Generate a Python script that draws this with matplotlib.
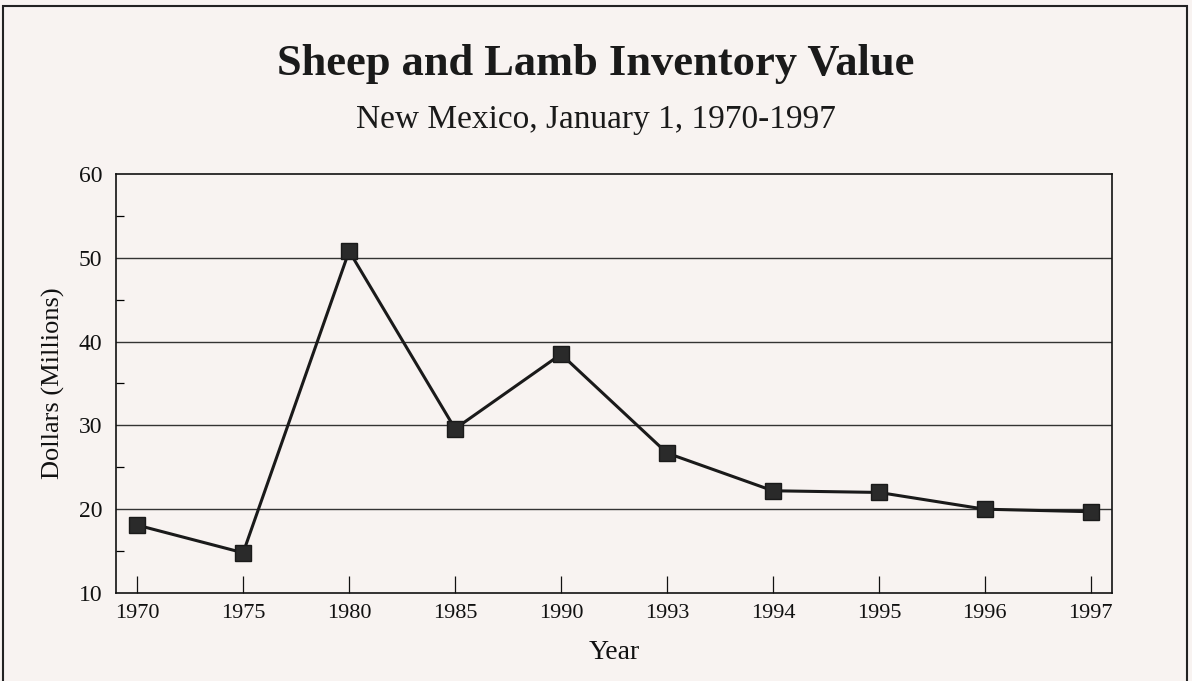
import matplotlib
matplotlib.use("Agg")
import matplotlib.pyplot as plt
from matplotlib.patches import Rectangle
from matplotlib.ticker import MultipleLocator

years = ["1970", "1975", "1980", "1985", "1990", "1993", "1994", "1995", "1996", "1997"]
values = [18.1, 14.8, 50.8, 29.6, 38.5, 26.7, 22.2, 22.0, 20.0, 19.7]

plt.rcParams['font.family'] = ['Liberation Serif', 'DejaVu Serif']

bg = '#f8f3f1'
fig = plt.figure(figsize=(11.92, 6.81), dpi=100, facecolor=bg)
ax = fig.add_axes([116/1192, 1 - 593/681, (1112 - 116)/1192, (593 - 174)/681])
ax.set_facecolor(bg)

x = list(range(len(years)))
ax.plot(x, values, color='#1a1a1a', lw=2.2, marker='s', ms=11,
        mfc='#2a2a2a', mec='#1a1a1a', zorder=3)

ax.set_xlim(-0.2, len(years) - 1 + 0.2)
ax.set_ylim(10, 60)
ax.set_xticks(x)
ax.set_xticklabels(years)
ax.yaxis.set_major_locator(MultipleLocator(10))
ax.yaxis.set_minor_locator(MultipleLocator(5))
for yv in [20, 30, 40, 50]:
    ax.axhline(yv, color='#333333', lw=1.0, zorder=1)

ax.tick_params(axis='x', direction='in', length=12, width=0.9, labelsize=16, pad=8, colors='#111111')
ax.tick_params(axis='y', which='major', direction='in', length=0, labelsize=17, pad=10, colors='#111111')
ax.tick_params(axis='y', which='minor', direction='in', length=6, width=0.9)
for s in ax.spines.values():
    s.set_color('#111111')
    s.set_linewidth(1.2)

ax.set_ylabel('Dollars (Millions)', fontsize=19, labelpad=10, color='#111111')
ax.set_xlabel('Year', fontsize=20, labelpad=12, color='#111111')

fig.text(0.5, 1 - 64/681, 'Sheep and Lamb Inventory Value', ha='center', va='center',
         fontsize=32, fontweight='bold', color='#1a1a1a')
fig.text(0.5, 1 - 120/681, 'New Mexico, January 1, 1970-1997', ha='center', va='center',
         fontsize=24, color='#1a1a1a')

fig.patches.append(Rectangle((3/1192, -0.05), (1187 - 3)/1192, 1.05 - 6/681,
                             transform=fig.transFigure, fill=False, ec='#222222', lw=1.5))

fig.savefig('out.png', dpi=100, facecolor=bg)
